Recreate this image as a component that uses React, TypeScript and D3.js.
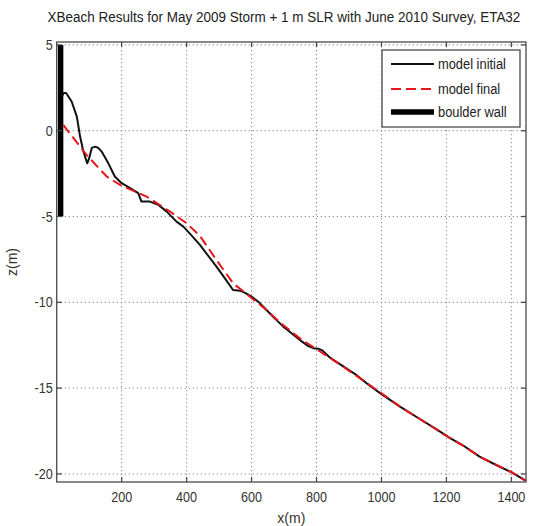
import React from 'react';
import * as d3 from 'd3';

const xInitial = [15, 22, 29, 46, 62, 72, 82, 94, 100, 108, 118, 128, 138, 159, 179, 200, 226, 251, 261, 287, 313, 338, 369, 390, 415, 441, 467, 492, 518, 543, 564, 580, 600, 623, 646, 672, 697, 723, 749, 775, 790, 805, 818, 840, 880, 920, 960, 1000, 1057, 1118, 1165, 1210, 1256, 1302, 1350, 1400, 1445];
const zInitial = [2.0, 2.2, 2.2, 1.7, 0.82, -0.34, -1.2, -1.9, -1.6, -1.0, -0.93, -1.0, -1.2, -1.9, -2.67, -3.06, -3.35, -3.64, -4.13, -4.13, -4.32, -4.7, -5.3, -5.59, -6.1, -6.65, -7.3, -7.92, -8.6, -9.28, -9.32, -9.45, -9.67, -10.0, -10.45, -10.95, -11.4, -11.8, -12.2, -12.55, -12.67, -12.7, -12.8, -13.2, -13.7, -14.2, -14.8, -15.35, -16.08, -16.8, -17.35, -17.9, -18.4, -18.99, -19.45, -19.9, -20.4];

const xFinal = [20, 92, 154, 195, 277, 349, 400, 441, 492, 543, 595, 646, 697, 749, 800, 870, 940, 1000, 1057, 1118, 1210, 1256, 1302, 1400, 1445];
const zFinal = [0.34, -1.41, -2.67, -3.16, -3.84, -4.71, -5.39, -6.13, -7.53, -8.89, -9.67, -10.45, -11.32, -12.1, -12.73, -13.6, -14.5, -15.3, -16.08, -16.8, -17.9, -18.4, -18.99, -19.9, -20.4];

const xWall = [12, 12];
const zWall = [5, -5];

const xTicks = [200, 400, 600, 800, 1000, 1200, 1400];
const zTicks = [5, 0, -5, -10, -15, -20];

const legendLabels = ['model initial', 'model final', 'boulder wall'];

const W = 539;
const H = 526;
const font = '"Liberation Sans", Arial, sans-serif';

export default function App() {
  const left = 56.7, right = 526, top = 42, bottom = 482;
  const x = d3.scaleLinear().domain([0, 1445]).range([left, right]);
  const y = d3.scaleLinear().domain([-20.47, 5.17]).range([bottom, top]);

  const line = d3.line<[number, number]>().x(d => x(d[0])).y(d => y(d[1]));
  const initialPts = xInitial.map((v, i) => [v, zInitial[i]] as [number, number]);
  const finalPts = xFinal.map((v, i) => [v, zFinal[i]] as [number, number]);
  const wallPts = xWall.map((v, i) => [v, zWall[i]] as [number, number]);

  const axisColor = '#4a4a4a';
  const gridColor = '#8a8a8a';
  const tl = 5;

  // legend geometry
  const lg = { x: 382, y: 50, w: 138, h: 77 };
  const rows = [64, 89, 112];
  const titleX = 284;

  return (
    <svg width={W} height={H} style={{ position: 'absolute', left: 0, top: 0, background: '#fff' }}>
      <rect x={0} y={0} width={W} height={H} fill="#fff" />
      <text x={titleX} y={22} textAnchor="middle" fontFamily={font} fontSize={14.5} fill="#222"
        transform={`translate(${titleX},0) scale(0.93,1) translate(${-titleX},0)`}>
        XBeach Results for May 2009 Storm + 1 m SLR with June 2010 Survey, ETA32
      </text>

      {/* grid */}
      <g stroke={gridColor} strokeWidth={1} strokeDasharray="1.3,2.7">
        {xTicks.map(t => <line key={'gx' + t} x1={x(t)} x2={x(t)} y1={top} y2={bottom} />)}
        {zTicks.map(t => <line key={'gy' + t} x1={left} x2={right} y1={y(t)} y2={y(t)} />)}
      </g>

      {/* data */}
      <path d={line(wallPts) || ''} fill="none" stroke="#000" strokeWidth={5.5} />
      <path d={line(initialPts) || ''} fill="none" stroke="#111" strokeWidth={2} strokeLinejoin="round" />
      <path d={line(finalPts) || ''} fill="none" stroke="#e8151b" strokeWidth={2} strokeDasharray="10,5" />

      {/* box + ticks */}
      <rect x={left} y={top} width={right - left} height={bottom - top} fill="none" stroke={axisColor} strokeWidth={1.3} />
      <g stroke={axisColor} strokeWidth={1.3}>
        {xTicks.map(t => (
          <g key={'tx' + t}>
            <line x1={x(t)} x2={x(t)} y1={bottom} y2={bottom - tl} />
            <line x1={x(t)} x2={x(t)} y1={top} y2={top + tl} />
          </g>
        ))}
        {zTicks.map(t => (
          <g key={'ty' + t}>
            <line x1={left} x2={left + tl} y1={y(t)} y2={y(t)} />
            <line x1={right} x2={right - tl} y1={y(t)} y2={y(t)} />
          </g>
        ))}
      </g>

      {/* tick labels */}
      <g fontFamily={font} fontSize={14} fill="#333">
        {xTicks.map(t => (
          <text key={'lx' + t} x={x(t)} y={502} textAnchor="middle" transform={`translate(${x(t)},0) scale(0.9,1) translate(${-x(t)},0)`}>{t}</text>
        ))}
        {zTicks.map(t => (
          <text key={'ly' + t} x={left - 4} y={y(t) + 5} textAnchor="end" transform={`translate(${left - 4},0) scale(0.9,1) translate(${-(left - 4)},0)`}>{t}</text>
        ))}
        <text x={(left + right) / 2} y={523} textAnchor="middle">x(m)</text>
        <text transform={`translate(17,${262}) rotate(-90)`} textAnchor="middle">z(m)</text>
      </g>

      {/* legend */}
      <rect x={lg.x} y={lg.y} width={lg.w} height={lg.h} fill="#fff" stroke={axisColor} strokeWidth={1.3} />
      <line x1={391} x2={434} y1={rows[0]} y2={rows[0]} stroke="#111" strokeWidth={2} />
      <line x1={391} x2={434} y1={rows[1]} y2={rows[1]} stroke="#e8151b" strokeWidth={2} strokeDasharray="10,5" />
      <line x1={391} x2={434} y1={rows[2]} y2={rows[2]} stroke="#000" strokeWidth={5.5} />
      <g fontFamily={font} fontSize={14} fill="#222">
        {legendLabels.map((s, i) => (
          <text key={s} x={438} y={rows[i] + 5} transform={`translate(438,0) scale(0.92,1) translate(-438,0)`}>{s}</text>
        ))}
      </g>
    </svg>
  );
}
